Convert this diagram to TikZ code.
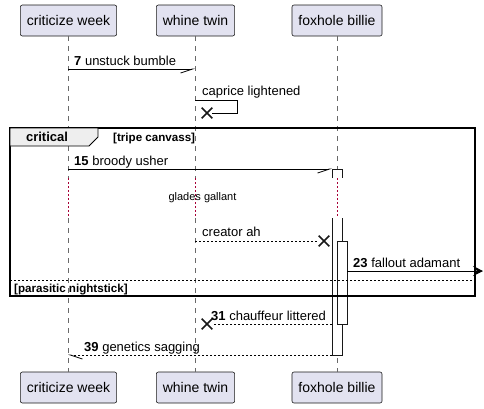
\documentclass[tikz,border=0pt]{standalone}
\usepackage{fontspec}
\setmainfont{Liberation Sans}
\usepackage{xcolor}
\usetikzlibrary{shapes,arrows.meta,positioning}

\definecolor{partfill}{HTML}{E2E2F0}
\definecolor{partline}{HTML}{181818}
\definecolor{delayred}{HTML}{A80036}
\definecolor{tabfill}{HTML}{EEEEEE}

\begin{document}
\begin{tikzpicture}[
  x=1pt, y=-1pt,
  participant/.style={
    rectangle,
    rounded corners=2pt,
    draw=partline,
    fill=partfill,
    line width=0.6pt,
    minimum height=31pt,
    inner xsep=6.5pt,
    font=\fontsize{14}{16}\selectfont
  },
  lifeline/.style={
    draw=partline!65,
    line width=0.6pt,
    dash pattern=on 5pt off 5pt
  },
  delayline/.style={
    draw=delayred,
    line width=1pt,
    dash pattern=on 1.5pt off 2.5pt
  },
  msg/.style={
    line width=0.8pt
  },
  reply/.style={
    line width=0.8pt,
    dash pattern=on 2pt off 2pt
  },
  halfright/.style={
    -{Straight Barb[right,length=12pt,width=8pt]}
  },
  halfleft/.style={
    -{Straight Barb[left,length=12pt,width=8pt]}
  },
  fullarrow/.style={
    -{Stealth[length=10pt,width=10pt,inset=4pt]}
  },
  msglabel/.style={
    anchor=base west,
    inner sep=0pt,
    font=\fontsize{13}{15}\selectfont
  },
  framelabel/.style={
    anchor=base west,
    inner sep=0pt,
    font=\bfseries\fontsize{11.6}{13}\selectfont
  },
  destroy/.style={
    cross out,
    draw=partline,
    line width=1.6pt,
    minimum size=9pt,
    inner sep=0pt
  },
  activation/.style={
    draw=partline,
    fill=white,
    line width=0.8pt
  }
]
  \useasboundingbox (0,0) rectangle (484,408);

  % Participants, top and bottom
  \node[participant] (cw) at (68.5,20.5) {criticize week};
  \node[participant] (wt) at (195.5,20.5) {whine twin};
  \node[participant] (fb) at (337,20.5) {foxhole billie};
  \node[participant] (cwb) at (68.5,387.5) {criticize week};
  \node[participant] (wtb) at (195.5,387.5) {whine twin};
  \node[participant] (fbb) at (337,387.5) {foxhole billie};

  % Lifelines, with the delay part dotted
  \foreach \pa/\pb in {cw/cwb, wt/wtb, fb/fbb} {
    \draw[lifeline] (\pa.south) -- (\pa |- 0,178);
    \draw[delayline] (\pa |- 0,178) -- (\pa |- 0,218);
    \draw[lifeline] (\pa |- 0,218) -- (\pb.north);
  }

  % Activations on foxhole billie
  \filldraw[activation] (332,178) -- (332,169) -- (342,169) -- (342,178);
  \filldraw[activation] (342,218) -- (342,355) -- (332,355) -- (332,218);
  \filldraw[activation] (337,241) rectangle (347,324);

  % Critical frame
  \draw[line width=1.5pt] (10,128) rectangle (475,296);
  \filldraw[fill=tabfill, draw=black, line width=0.8pt]
    (10,128) -- (98,128) -- (98,137) -- (89,146) -- (10,146) -- cycle;
  \node[font=\bfseries\fontsize{13}{15}\selectfont, inner sep=0pt, anchor=base] (crit) at (47,141.5) {critical};
  \node[framelabel] (guard1) at (113,141) {[tripe canvass]};
  \draw[line width=0.6pt, dash pattern=on 2pt off 2pt] (10,280) -- (475,280);
  \node[framelabel] (guard2) at (14,292) {[parasitic nightstick]};

  % Message end points
  \coordinate (m7a) at (68,69);
  \coordinate (m7b) at (195,69);
  \coordinate (selfa) at (195,100);
  \node[destroy] (capx) at (207,113) {};
  \coordinate (m15a) at (68,169);
  \coordinate (m15b) at (332,169);
  \coordinate (cra) at (195,241);
  \node[destroy] (crx) at (324,241) {};
  \coordinate (m23a) at (347,271);
  \coordinate (m23b) at (483,271);
  \coordinate (m31a) at (332,324);
  \node[destroy] (chx) at (207,324) {};
  \coordinate (m39a) at (332,355);
  \coordinate (m39b) at (68,355);

  % Messages
  \draw[msg, halfright] (m7a) -- (m7b);
  \node[msglabel] (l7) at (74,65) {\textbf{7} unstuck bumble};
  \draw[msg] (selfa) -- ++(42,0) |- (capx.east);
  \node[msglabel] (lcap) at (202,95) {caprice lightened};
  \draw[msg, halfright] (m15a) -- (m15b);
  \node[msglabel] (l15) at (74,165) {\textbf{15} broody usher};
  \node[inner sep=0pt, font=\fontsize{11}{13}\selectfont] (delay) at (202.5,198) {glades gallant};
  \draw[reply] (cra) -- (crx.west);
  \node[msglabel] (lcr) at (202,236) {creator ah};
  \draw[msg, fullarrow] (m23a) -- (m23b);
  \node[msglabel] (l23) at (353,267) {\textbf{23} fallout adamant};
  \draw[reply] (m31a) -- (chx.east);
  \node[msglabel] (l31) at (211,320) {\textbf{31} chauffeur littered};
  \draw[reply, halfleft] (m39a) -- (m39b);
  \node[msglabel] (l39) at (84,351) {\textbf{39} genetics sagging};

\end{tikzpicture}
\end{document}
